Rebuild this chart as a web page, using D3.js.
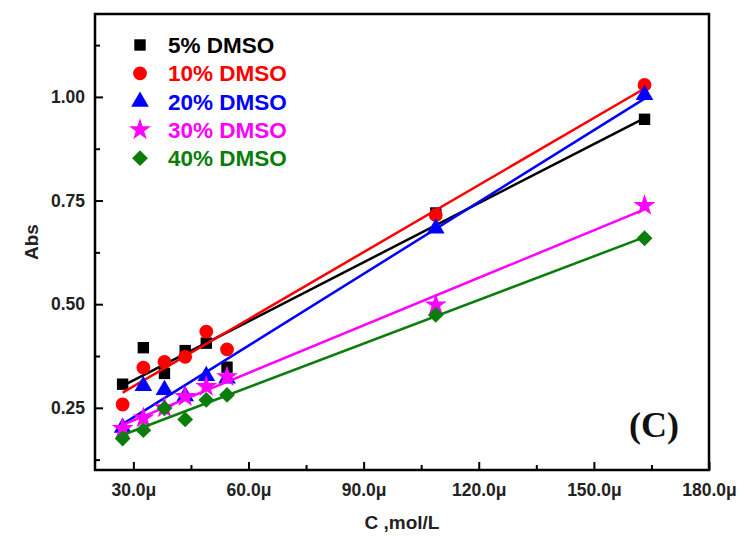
<!DOCTYPE html>
<html>
<head>
<meta charset="utf-8">
<script src="https://cdn.jsdelivr.net/npm/d3@7"></script>
<style>
  body { margin: 0; background: #fff; }
  text { font-family: "Liberation Sans", Arial, sans-serif; font-weight: bold; }
</style>
</head>
<body>
<svg width="740" height="536"></svg>
<script>
// concentrations (mol/L, in µ)
const conc = [27.2, 32.6, 38.1, 43.5, 49.0, 54.4, 108.8, 163.2];

// absorbance per DMSO fraction
const abs5  = [0.307, 0.395, 0.333, 0.388, 0.406, 0.348, 0.720, 0.946];
const abs10 = [0.258, 0.347, 0.361, 0.373, 0.434, 0.391, 0.715, 1.029];
const abs20 = [0.202, 0.303, 0.293, 0.278, 0.327, 0.321, 0.683, 1.005];
const abs30 = [0.200, 0.225, 0.250, 0.277, 0.301, 0.325, 0.498, 0.738];
const abs40 = [0.176, 0.196, 0.249, 0.222, 0.269, 0.281, 0.474, 0.659];

const seriesNames = ["5% DMSO", "10% DMSO", "20% DMSO", "30% DMSO", "40% DMSO"];
const colors = ["#000000", "#ff0000", "#0000ff", "#ff00ff", "#0a7d0a"];

const xTicks = [30, 60, 90, 120, 150, 180];
const xMinor = [45, 75, 105, 135, 165];
const yTicks = [0.25, 0.50, 0.75, 1.00];
const yMinor = [0.125, 0.375, 0.625, 0.875, 1.125];

const series = [abs5, abs10, abs20, abs30, abs40].map((vals, i) => ({
    name: seriesNames[i],
    color: colors[i],
    points: vals.map((v, j) => ({ x: conc[j], y: v }))
}));

const svg = d3.select("svg");
const pLeft = 95, pRight = 709, pTop = 14, pBottom = 470;

const x = d3.scaleLinear().domain([20, 180]).range([pLeft, pRight]);
const y = d3.scaleLinear().domain([0.1, 1.2]).range([pBottom, pTop]);

// markers
const shapes = [
    d3.symbol().type(d3.symbolSquare).size(130),
    d3.symbol().type(d3.symbolCircle).size(150),
    d3.symbol().type(d3.symbolTriangle).size(135),
    d3.symbol().type(d3.symbolStar).size(150),
    d3.symbol().type(d3.symbolSquare).size(125)
];
const rot = [0, 0, 0, 0, 45];

// least squares fit line
function fit(pts) {
    const mx = d3.mean(pts, d => d.x), my = d3.mean(pts, d => d.y);
    const sxy = d3.sum(pts, d => (d.x - mx) * (d.y - my));
    const sxx = d3.sum(pts, d => (d.x - mx) * (d.x - mx));
    const b = sxy / sxx, a = my - b * mx;
    const xs = d3.extent(pts, d => d.x);
    return xs.map(v => ({ x: v, y: a + b * v }));
}

const line = d3.line().x(d => x(d.x)).y(d => y(d.y));

series.forEach((s, i) => {
    const g = svg.append("g");
    g.append("path")
        .attr("d", line(fit(s.points)))
        .attr("fill", "none")
        .attr("stroke", s.color)
        .attr("stroke-width", 2.5);
    g.selectAll("path.pt")
        .data(s.points)
        .enter()
        .append("path")
        .attr("class", "pt")
        .attr("d", shapes[i])
        .attr("fill", s.color)
        .attr("transform", d => `translate(${x(d.x)},${y(d.y)}) rotate(${rot[i]})`);
});

// axes (ticks inward)
svg.append("g")
    .attr("transform", `translate(0,${pBottom})`)
    .call(d3.axisBottom(x).tickValues(xTicks).tickSize(-8).tickPadding(14)
        .tickFormat(d => d.toFixed(1) + "μ"))
    .call(g => g.select(".domain").remove())
    .call(g => g.selectAll("line").attr("stroke-width", 2))
    .call(g => g.selectAll("text").attr("font-size", 17.5).attr("fill", "#222"));

svg.append("g")
    .attr("transform", `translate(0,${pBottom})`)
    .call(d3.axisBottom(x).tickValues(xMinor).tickSize(-5).tickFormat(""))
    .call(g => g.select(".domain").remove())
    .call(g => g.selectAll("line").attr("stroke-width", 2));

svg.append("g")
    .attr("transform", `translate(${pLeft},0)`)
    .call(d3.axisLeft(y).tickValues(yTicks).tickSize(-8).tickPadding(10)
        .tickFormat(d3.format(".2f")))
    .call(g => g.select(".domain").remove())
    .call(g => g.selectAll("line").attr("stroke-width", 2))
    .call(g => g.selectAll("text").attr("font-size", 17.5).attr("fill", "#222"));

svg.append("g")
    .attr("transform", `translate(${pLeft},0)`)
    .call(d3.axisLeft(y).tickValues(yMinor).tickSize(-5).tickFormat(""))
    .call(g => g.select(".domain").remove())
    .call(g => g.selectAll("line").attr("stroke-width", 2));

// frame
svg.append("rect")
    .attr("x", pLeft).attr("y", pTop)
    .attr("width", pRight - pLeft).attr("height", pBottom - pTop)
    .attr("fill", "none")
    .attr("stroke", "#000")
    .attr("stroke-width", 2.5);

// axis titles
svg.append("text")
    .attr("x", (pLeft + pRight) / 2).attr("y", 529)
    .attr("text-anchor", "middle")
    .attr("font-size", 19)
    .attr("fill", "#222")
    .text("C ,mol/L");

svg.append("text")
    .attr("transform", "translate(38,242) rotate(-90)")
    .attr("text-anchor", "middle")
    .attr("font-size", 19)
    .attr("fill", "#222")
    .text("Abs");

// legend
const legend = svg.append("g");
series.forEach((s, i) => {
    const yy = 45 + i * 28.3;
    legend.append("path")
        .attr("d", shapes[i])
        .attr("fill", s.color)
        .attr("transform", `translate(140,${yy}) rotate(${rot[i]})`);
    legend.append("text")
        .attr("x", 168).attr("y", yy + 8)
        .attr("font-size", 22.5)
        .attr("fill", s.color)
        .text(s.name);
});

// panel label
svg.append("text")
    .attr("x", 654).attr("y", 437)
    .attr("text-anchor", "middle")
    .style("font-family", "'Liberation Serif', 'Times New Roman', serif")
    .attr("font-size", 36)
    .attr("fill", "#111")
    .text("(C)");
</script>
</body>
</html>
